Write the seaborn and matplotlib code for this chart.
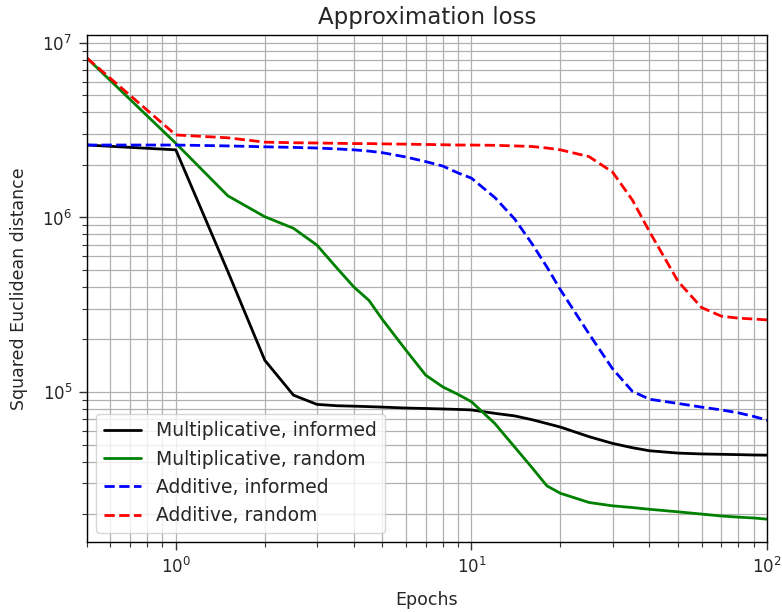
import numpy as np
import pandas as pd
import matplotlib
matplotlib.use("Agg")
import matplotlib.pyplot as plt
import seaborn as sns

epochs = [0.5, 1, 1.5, 2, 2.5, 3, 3.5, 4, 4.5, 5, 6, 7, 8, 9, 10, 12, 14, 16, 18, 20,
          25, 30, 35, 40, 50, 60, 70, 80, 90, 100]

mult_informed = [2.6e6, 2.44e6, 4.9e5, 1.52e5, 9.6e4, 8.5e4, 8.35e4, 8.3e4, 8.25e4, 8.2e4,
                 8.1e4, 8.05e4, 8.0e4, 7.95e4, 7.9e4, 7.55e4, 7.3e4, 6.95e4, 6.6e4, 6.3e4,
                 5.55e4, 5.08e4, 4.8e4, 4.61e4, 4.47e4, 4.42e4, 4.4e4, 4.38e4, 4.36e4, 4.35e4]

mult_random = [8.2e6, 2.66e6, 1.33e6, 1.01e6, 8.67e5, 6.95e5, 5.15e5, 4.0e5, 3.35e5, 2.6e5,
               1.74e5, 1.25e5, 1.07e5, 9.7e4, 8.8e4, 6.6e4, 4.84e4, 3.7e4, 2.9e4, 2.63e4,
               2.33e4, 2.23e4, 2.18e4, 2.13e4, 2.06e4, 2.0e4, 1.95e4, 1.92e4, 1.9e4, 1.87e4]

add_informed = [2.6e6, 2.6e6, 2.57e6, 2.54e6, 2.52e6, 2.5e6, 2.47e6, 2.44e6, 2.4e6, 2.35e6,
                2.22e6, 2.09e6, 1.97e6, 1.8e6, 1.68e6, 1.3e6, 9.8e5, 7.1e5, 5.2e5, 3.85e5,
                2.15e5, 1.36e5, 1.01e5, 9.1e4, 8.6e4, 8.2e4, 7.9e4, 7.6e4, 7.25e4, 6.9e4]

add_random = [8.2e6, 2.97e6, 2.86e6, 2.7e6, 2.68e6, 2.67e6, 2.66e6, 2.65e6, 2.65e6, 2.64e6,
              2.63e6, 2.62e6, 2.61e6, 2.6e6, 2.6e6, 2.59e6, 2.57e6, 2.55e6, 2.5e6, 2.44e6,
              2.23e6, 1.82e6, 1.26e6, 8.3e5, 4.3e5, 3.05e5, 2.72e5, 2.65e5, 2.62e5, 2.59e5]

labels = ["Multiplicative, informed", "Multiplicative, random",
          "Additive, informed", "Additive, random"]
colors = ["black", "green", "blue", "red"]

series = [mult_informed, mult_random, add_informed, add_random]
df = pd.concat([pd.DataFrame({"Epochs": epochs, "loss": s, "series": lab})
                for s, lab in zip(series, labels)], ignore_index=True)

sns.set_style("ticks")
plt.rcParams["font.family"] = ["DejaVu Sans"]

fig = plt.figure(figsize=(7.82, 6.12), dpi=100)
ax = fig.add_axes([0.111, 0.114, 0.870, 0.829])

sns.lineplot(data=df, x="Epochs", y="loss", hue="series", style="series",
             hue_order=labels, style_order=labels,
             palette=dict(zip(labels, colors)),
             dashes={labels[0]: "", labels[1]: "", labels[2]: (3.7, 1.6), labels[3]: (3.7, 1.6)},
             linewidth=2, ax=ax, estimator=None, sort=True)

ax.set_xscale("log")
ax.set_yscale("log")
ax.set_xlim(0.5, 100)
ax.grid(True, which="both", color="#b0b0b0", linewidth=0.9)
ax.set_axisbelow(True)
for sp in ax.spines.values():
    sp.set_color("black")
    sp.set_linewidth(1.0)
ax.tick_params(which="major", length=5.5, width=1.0, labelsize=12, color="#333333", pad=5)
ax.tick_params(which="minor", length=3.5, width=0.8, color="#333333")

ax.set_title("Approximation loss", fontsize=16.5, pad=8)
ax.set_xlabel("Epochs", fontsize=12.5, labelpad=10)
ax.set_ylabel("Squared Euclidean distance", fontsize=12.5, labelpad=10)

handles, labs = ax.get_legend_handles_labels()
ax.legend(handles, labs, loc="lower left", fontsize=13.5, title=None, framealpha=0.8)

fig.savefig("out.png", dpi=100)
